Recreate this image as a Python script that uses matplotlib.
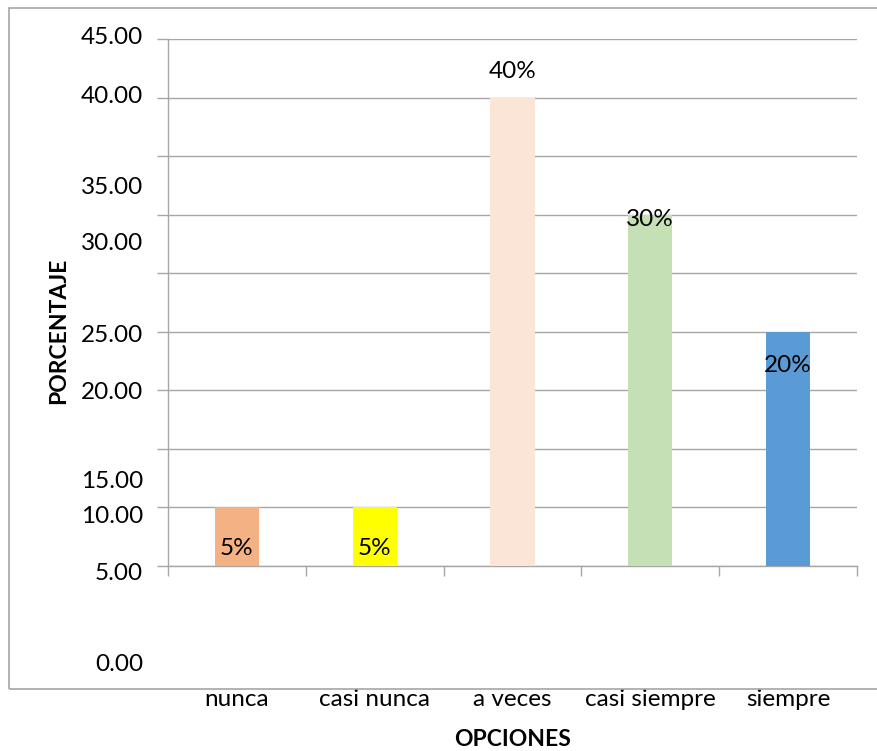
import matplotlib
matplotlib.use("Agg")
import matplotlib.pyplot as plt
from matplotlib.patches import Rectangle

plt.rcParams['font.family'] = ['Lato', 'DejaVu Sans']

opciones = ["nunca", "casi nunca", "a veces", "casi siempre", "siempre"]
porcentaje = [5, 5, 40, 30, 20]
etiquetas = ["5%", "5%", "40%", "30%", "20%"]
colores = ["#F4B183", "#FFFF00", "#FBE5D6", "#C5E0B4", "#5B9BD5"]

# texto del eje y tal como sale en la hoja, con la altura (en unidades del eje) donde queda
marcas_y = ["45.00", "40.00", "35.00", "30.00", "25.00", "20.00", "15.00", "10.00", "5.00", "0.00"]
altura_marcas = [45.1, 40.1, 32.3, 27.5, 19.7, 14.8, 7.2, 4.2, -0.65, -8.4]
# altura de cada etiqueta de dato
altura_etiquetas = [1.5, 1.5, 42.2, 29.6, 17.1]

gris = "#A6A6A6"
fs = 17.5
fs_titulo = 16.5

fig = plt.figure(figsize=(8.78, 7.51), dpi=100)
ax = fig.add_axes([168 / 878, 1 - 566 / 751, 689 / 878, 527 / 751])

x = list(range(len(opciones)))
ax.bar(x, porcentaje, width=0.32, color=colores, zorder=3)

ax.set_xlim(-0.5, len(opciones) - 0.5)
ax.set_ylim(0, 45)

ax.set_yticks(range(0, 46, 5))
ax.set_yticklabels([])
ax.set_xticks([i - 0.5 for i in range(len(opciones) + 1)])
ax.set_xticklabels([])
ax.tick_params(axis='y', length=8, width=1, color=gris, direction='out')
ax.tick_params(axis='x', length=7, width=1, color=gris, direction='out')
ax.grid(axis='y', color=gris, linewidth=1, zorder=0)

for lado in ["top", "right"]:
    ax.spines[lado].set_visible(False)
for lado in ["left", "bottom"]:
    ax.spines[lado].set_color(gris)
    ax.spines[lado].set_linewidth(1)

for texto, h in zip(marcas_y, altura_marcas):
    ax.text(-0.036, h, texto, transform=ax.get_yaxis_transform(),
            ha='right', va='center', fontsize=fs, clip_on=False)

for i, (texto, h) in enumerate(zip(etiquetas, altura_etiquetas)):
    ax.text(i, h, texto, ha='center', va='center', fontsize=fs, zorder=4)

for i, nombre in enumerate(opciones):
    ax.text(i, -0.254, nombre, transform=ax.get_xaxis_transform(),
            ha='center', va='center', fontsize=fs, clip_on=False)

fig.text(513 / 878, 1 - 739 / 751, "OPCIONES", ha='center', va='center',
         fontsize=fs_titulo, fontweight='bold')
fig.text(59 / 878, 1 - 331 / 751, "PORCENTAJE", ha='center', va='center',
         fontsize=fs_titulo, fontweight='bold', rotation=90)

# marco del área del gráfico
fig.patches.append(Rectangle((9.5 / 878, 1 - 689 / 751), 1.0, (689 - 8) / 751,
                             transform=fig.transFigure, fill=False,
                             edgecolor=gris, linewidth=1.2))

fig.savefig("out.png", dpi=100)
